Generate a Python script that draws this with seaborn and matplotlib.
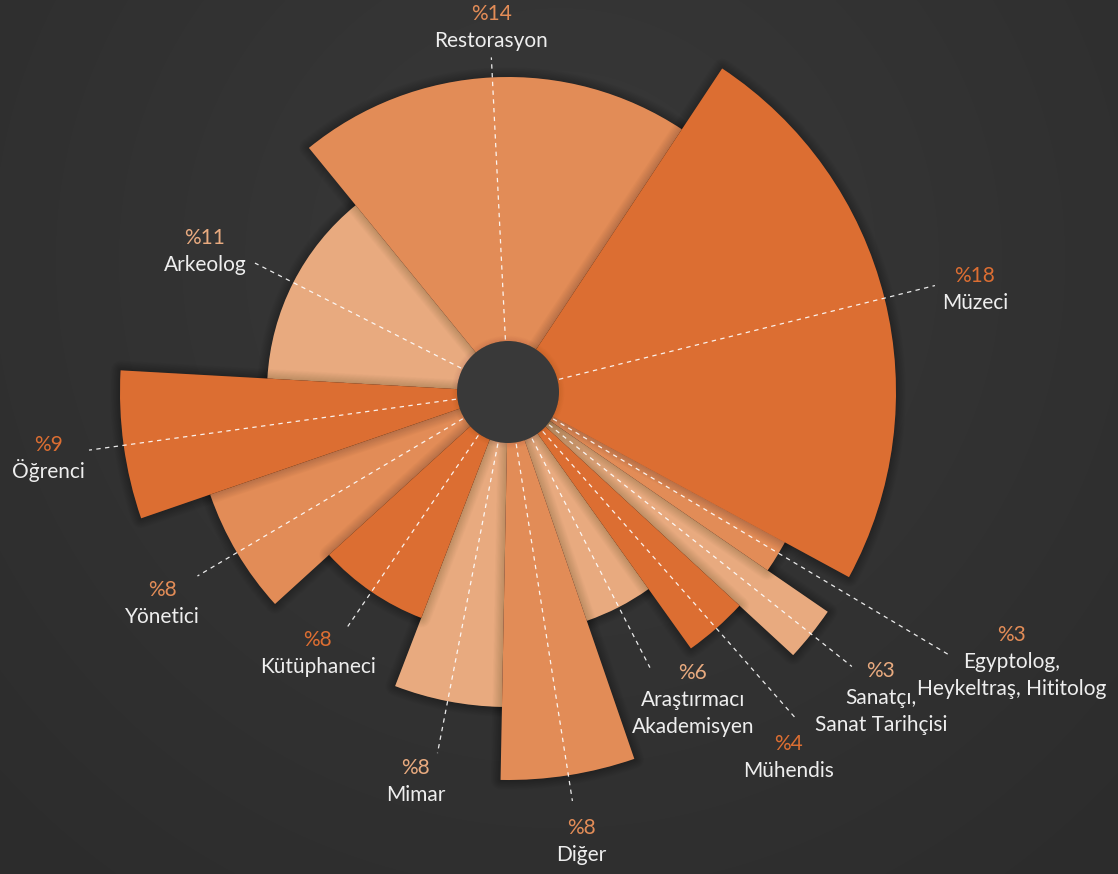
import numpy as np
import matplotlib
matplotlib.use("Agg")
import matplotlib.pyplot as plt
import matplotlib.patheffects as pe
import seaborn as sns

# data (angles in degrees clockwise from 12 o'clock)
categories = ["Restorasyon", "Müzeci", "Egyptolog,\nHeykeltraş, Hititolog",
              "Sanatçı,\nSanat Tarihçisi", "Mühendis", "Araştırmacı\nAkademisyen",
              "Diğer", "Mimar", "Kütüphaneci", "Yönetici", "Öğrenci", "Arkeolog"]
percent = [14, 18, 3, 3, 4, 6, 8, 8, 8, 8, 9, 11]
start_deg = [-39.2, 33.5, 117.1, 124.5, 132.7, 144.5, 161.0, 181.1, 201.0, 227.7, 251.0, 273.2]
span_deg = [72.7, 85.0, 7.4, 8.2, 11.8, 16.5, 20.1, 19.9, 26.7, 23.3, 22.2, 47.6]
outer_r = [315, 388, 315, 388, 315, 242, 388, 315, 242, 315, 388, 241]
tier = ["mid", "dark", "mid", "light", "dark", "light", "mid", "light", "dark", "mid", "dark", "light"]

palette = {"light": "#E8AA7F", "mid": "#E28C57", "dark": "#DC6E32"}
hole_r = 51

# label layout: leader length and text offset (pixels) from leader end
leader_r = [335, 440, 513, 440, 437, 310, 414, 368, 284, 361, 423, 284]
label_off = [(0, 44), (40, 11), (63, 21), (29, -3), (-8, -23), (43, -4),
             (9, -26), (-22, -14), (-30, -13), (-35, -13), (-41, 6), (-50, 26)]

sns.set_theme(style="dark")
plt.rcParams["font.family"] = ["Lato", "DejaVu Sans"]

W, H = 1118, 874
fig = plt.figure(figsize=(W / 100, H / 100), dpi=100)

# background radial gradient
yy, xx = np.mgrid[0:H, 0:W]
d = np.clip(np.hypot(xx - 560, yy - 260) / 820, 0, 1)[..., None]
c0 = np.array([0x39, 0x39, 0x39]) / 255
c1 = np.array([0x2c, 0x2c, 0x2c]) / 255
bg = fig.add_axes([0, 0, 1, 1])
bg.imshow(c0 + (c1 - c0) * d, aspect="auto")
bg.axis("off")

# polar axes, 1 radial unit = 1 pixel, centre at (508, 392)
cx, cy, R = 508, H - 392, 540
ax = fig.add_axes([(cx - R) / W, (cy - R) / H, 2 * R / W, 2 * R / H], projection="polar")
ax.set_theta_zero_location("N")
ax.set_theta_direction(-1)
ax.set_ylim(0, R)
ax.axis("off")
ax.patch.set_alpha(0)


def soft_shadow(strength, size=14):
    effects = [pe.Stroke(linewidth=w, foreground="black", alpha=strength, joinstyle="round")
               for w in np.arange(size, 0, -1.0)]
    return effects + [pe.Normal()]


rank = {"light": 0, "mid": 1, "dark": 2}
order = sorted(range(len(categories)), key=lambda i: rank[tier[i]])
for z, i in enumerate(order):
    ax.bar(np.deg2rad(start_deg[i]), outer_r[i], width=np.deg2rad(span_deg[i]),
           bottom=0, align="edge", color=palette[tier[i]], linewidth=0,
           zorder=2 + z * 0.01, path_effects=soft_shadow(0.01))

for i, name in enumerate(categories):
    th = np.deg2rad(start_deg[i] + span_deg[i] / 2)
    ax.plot([th, th], [0, leader_r[i]], color="white", lw=0.9, alpha=0.9,
            ls=(0, (3.5, 3.5)), zorder=4)
    dx, dy = label_off[i]
    ax.annotate(f"%{percent[i]}", xy=(th, leader_r[i]), xytext=(dx, dy - 7),
                textcoords="offset pixels", ha="center", va="baseline",
                color=palette[tier[i]], fontsize=15, zorder=6)
    for k, line in enumerate(name.split("\n")):
        ax.annotate(line, xy=(th, leader_r[i]), xytext=(dx, dy - 7 - 27 * (k + 1)),
                    textcoords="offset pixels", ha="center", va="baseline",
                    color="#eeeeee", fontsize=15, zorder=6)

# centre hole
ax.bar(0, hole_r, width=2 * np.pi, bottom=0, color="#393939", linewidth=0,
       zorder=5, path_effects=soft_shadow(0.008, size=8))

fig.savefig("out.png", dpi=100)
